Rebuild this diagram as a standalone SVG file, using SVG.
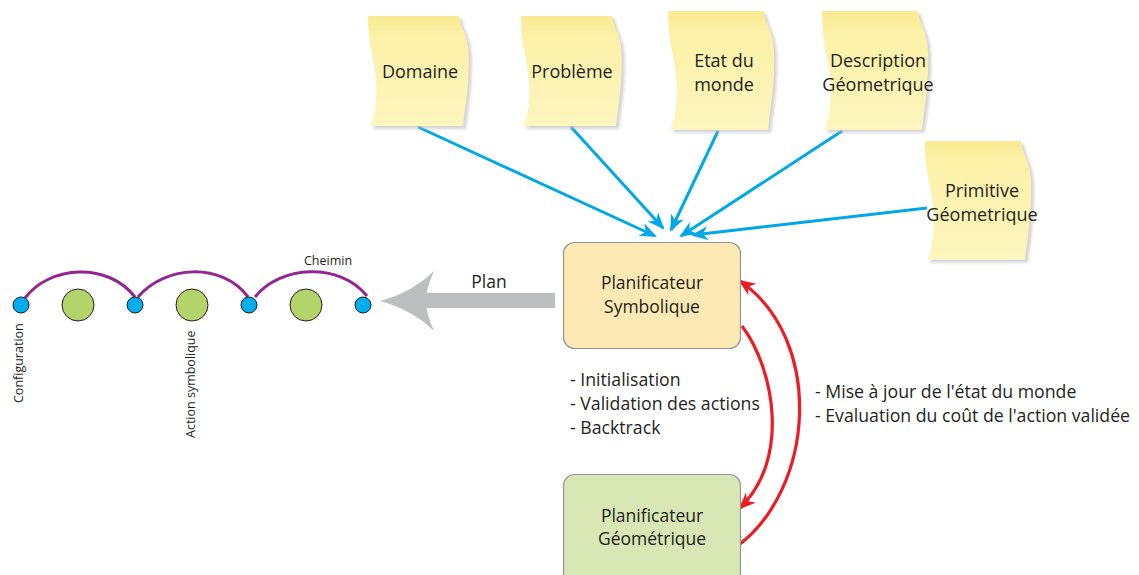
<svg xmlns="http://www.w3.org/2000/svg" xmlns:xlink="http://www.w3.org/1999/xlink" width="1139" height="575" viewBox="0 0 1139 575">
<style>
  .t { font-family: "Open Sans", "Liberation Sans", sans-serif; fill: #231F20; }
  .lbl { font-size: 17.5px; text-anchor: middle; }
  .nl { font-size: 18px; text-anchor: middle; }
  .list { font-size: 17.7px; }
  .small { font-size: 12.5px; }
  .blue { stroke: #00A9E6; stroke-width: 3; fill: none; marker-end: url(#blueHead); }
  .red { stroke: #ED1C24; stroke-width: 3.2; fill: none; marker-end: url(#redHead); }
  .arc { stroke: #92278F; stroke-width: 3; fill: none; }
  .cfg { fill: #00AEEF; stroke: #231F20; stroke-width: 1; }
  .act { fill: #B3D36B; stroke: #231F20; stroke-width: 1; }
  .note { fill: url(#noteGrad); }
  .shadow { fill: #B8B8B8; opacity: 0.6; filter: url(#blur); }
  .box { stroke: #939598; stroke-width: 1.2; }
</style>
<defs>
  <linearGradient id="noteGrad" x1="0" y1="0" x2="0" y2="1">
    <stop offset="0" stop-color="#F8EB92"/>
    <stop offset="0.18" stop-color="#FBF1A8"/>
    <stop offset="1" stop-color="#FDF6BE"/>
  </linearGradient>
  <filter id="blur" x="-10%" y="-10%" width="130%" height="130%">
    <feGaussianBlur stdDeviation="1.5"/>
  </filter>
  <path id="notePath" d="M0,0 H96 C97,12 106,22 106,42 C107,75 102,100 100,120 H2 C8,108 10,88 8,66 C6,44 0,32 0,0 Z"/>
  <marker id="blueHead" markerUnits="userSpaceOnUse" markerWidth="18" markerHeight="16" refX="15" refY="7" orient="auto">
    <path d="M0,0 L17,7 L0,14 L5,7 Z" fill="#00A9E6"/>
  </marker>
  <marker id="redHead" markerUnits="userSpaceOnUse" markerWidth="18" markerHeight="16" refX="15" refY="7" orient="auto">
    <path d="M0,0 L17,7 L0,14 L5,7 Z" fill="#ED1C24"/>
  </marker>
</defs>
<rect width="1139" height="575" fill="#FFFFFF"/>

<!-- connectors -->
<g id="connectors">
  <path class="blue" d="M418,127 L655,236"/>
  <path class="blue" d="M571,127 L663,228"/>
  <path class="blue" d="M718,131 L671,230"/>
  <path class="blue" d="M842,131 L681,236"/>
  <path class="blue" d="M927,208 L693,235"/>
  <path class="red" d="M742,326 C775,370 790,460 740,508"/>
  <path class="red" d="M736,547 C815,490 825,340 740,281"/>
  <g id="planArrow">
    <rect x="424" y="293" width="131" height="15" fill="#BCBEC0"/>
    <path d="M380,301 C400,296 420,285 434,271 C428,285 426,293 426,301 C426,309 428,317 434,331 C420,317 400,306 380,301 Z" fill="#BCBEC0"/>
  </g>
</g>

<!-- sticky notes -->
<g id="domaine">
  <use href="#notePath" class="shadow" transform="translate(371,19) scale(0.95,0.917)"/>
  <use href="#notePath" class="note" transform="translate(368,16) scale(0.95,0.917)"/>
  <text class="t nl" x="420" y="78">Domaine</text>
</g>
<g id="probleme">
  <use href="#notePath" class="shadow" transform="translate(524,19) scale(0.95,0.917)"/>
  <use href="#notePath" class="note" transform="translate(521,16) scale(0.95,0.917)"/>
  <text class="t nl" x="572" y="78">Problème</text>
</g>
<g id="etat">
  <use href="#notePath" class="shadow" transform="translate(671,14) scale(1.0,0.99)"/>
  <use href="#notePath" class="note" transform="translate(668,11) scale(1.0,0.99)"/>
  <text class="t nl" x="724" y="67">Etat du</text>
  <text class="t nl" x="724" y="91">monde</text>
</g>
<g id="description">
  <use href="#notePath" class="shadow" transform="translate(825,14) scale(1.0,0.99)"/>
  <use href="#notePath" class="note" transform="translate(822,11) scale(1.0,0.99)"/>
  <text class="t nl" x="878" y="67">Description</text>
  <text class="t nl" x="878" y="91">Géometrique</text>
</g>
<g id="primitive">
  <use href="#notePath" class="shadow" transform="translate(928,144) scale(1.0,0.99)"/>
  <use href="#notePath" class="note" transform="translate(925,141) scale(1.0,0.99)"/>
  <text class="t nl" x="982" y="197">Primitive</text>
  <text class="t nl" x="982" y="221">Géometrique</text>
</g>

<!-- planners -->
<g id="planSymbolique">
  <rect class="box" x="563.5" y="242.5" width="177" height="106" rx="11" fill="#FDE9B4"/>
  <text class="t lbl" x="652" y="289">Planificateur</text>
  <text class="t lbl" x="652" y="313">Symbolique</text>
</g>
<g id="planGeometrique">
  <rect class="box" x="563.5" y="474.5" width="177" height="120" rx="11" fill="#D9E7B5"/>
  <text class="t lbl" x="652" y="522">Planificateur</text>
  <text class="t lbl" x="652" y="545">Géométrique</text>
</g>

<!-- labels -->
<g id="planLabel"><text class="t lbl" x="489" y="288">Plan</text></g>
<g id="geoTasks">
  <text class="t list" x="570" y="386">- Initialisation</text>
  <text class="t list" x="570" y="410">- Validation des actions</text>
  <text class="t list" x="570" y="434">- Backtrack</text>
</g>
<g id="symTasks">
  <text class="t list" x="815" y="398">- Mise à jour de l'état du monde</text>
  <text class="t list" x="815" y="422">- Evaluation du coût de l'action validée</text>
</g>

<!-- path chain -->
<g id="chemin">
  <path class="arc" d="M25,298 C50,265 108,262 135,297"/>
  <path class="arc" d="M138,297 C165,265 222,262 248,297"/>
  <path class="arc" d="M255,297 C280,265 340,262 367,296"/>
  <circle class="act" cx="78" cy="305" r="16"/>
  <circle class="act" cx="192" cy="305" r="16"/>
  <circle class="act" cx="306" cy="305" r="16"/>
  <circle class="cfg" cx="21" cy="305" r="8"/>
  <circle class="cfg" cx="135" cy="305" r="8"/>
  <circle class="cfg" cx="249" cy="305" r="8"/>
  <circle class="cfg" cx="363" cy="305" r="8"/>
  <text class="t small" x="328" y="265" text-anchor="middle">Cheimin</text>
  <text class="t small" transform="translate(23,403) rotate(-90)">Configuration</text>
  <text class="t small" transform="translate(195,438) rotate(-90)">Action symbolique</text>
</g>
</svg>
